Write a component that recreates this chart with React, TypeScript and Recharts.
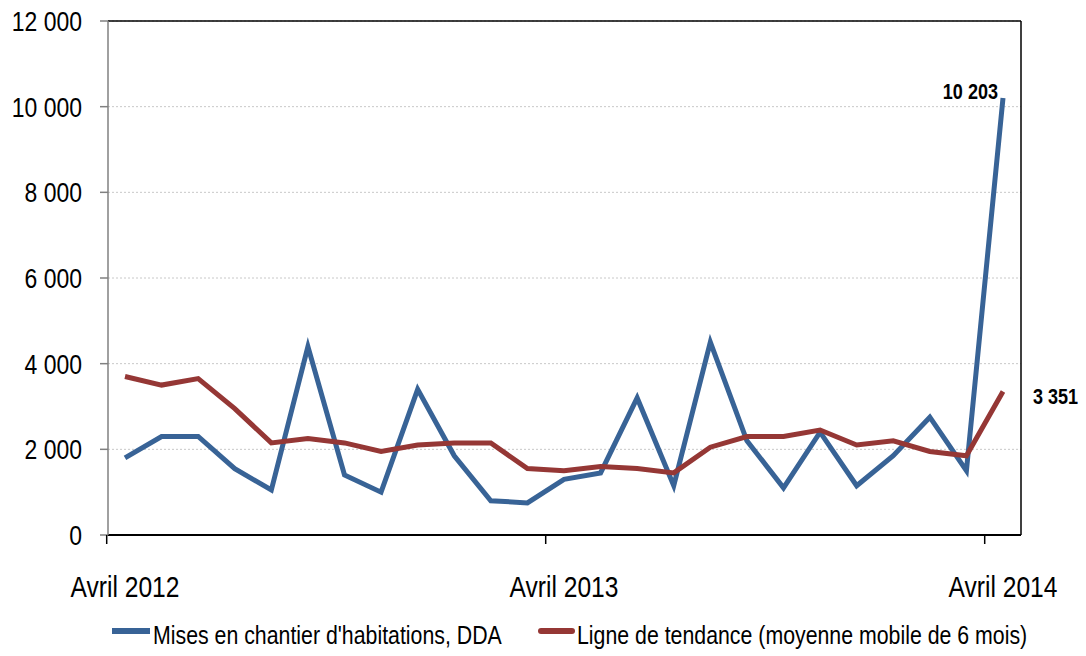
import {
  LineChart,
  Line,
  XAxis,
  YAxis,
  CartesianGrid,
  Legend,
  LabelList,
} from "recharts";

const MONTHS = [
  "Avril 2012", "Mai 2012", "Juin 2012", "Juillet 2012", "Août 2012", "Septembre 2012",
  "Octobre 2012", "Novembre 2012", "Décembre 2012", "Janvier 2013", "Février 2013", "Mars 2013",
  "Avril 2013", "Mai 2013", "Juin 2013", "Juillet 2013", "Août 2013", "Septembre 2013",
  "Octobre 2013", "Novembre 2013", "Décembre 2013", "Janvier 2014", "Février 2014", "Mars 2014",
  "Avril 2014",
];

const STARTS = [
  1800, 2300, 2300, 1550, 1050, 4400, 1400, 1000, 3400, 1850, 800, 750,
  1300, 1450, 3200, 1150, 4500, 2200, 1100, 2400, 1150, 1850, 2750, 1500,
  10203,
];

const TREND = [
  3700, 3500, 3650, 2950, 2150, 2250, 2150, 1950, 2100, 2150, 2150, 1550,
  1500, 1600, 1550, 1450, 2050, 2300, 2300, 2450, 2100, 2200, 1950, 1850,
  3351,
];

const Y_TICKS = [0, 2000, 4000, 6000, 8000, 10000, 12000];

const SERIES_NAMES = [
  "Mises en chantier d'habitations, DDA",
  "Ligne de tendance (moyenne mobile de 6 mois)",
];

const BLUE = "#386396";
const RED = "#953735";
// no Arial Narrow here: squeeze Liberation Sans horizontally instead
const FONT = "'Liberation Sans', Arial, sans-serif";
const SQUEEZE = 0.82;

const data = MONTHS.map((m, i) => ({ month: m, starts: STARTS[i], trend: TREND[i] }));

const fmt = (v: number) => String(v).replace(/\B(?=(\d{3})+(?!\d))/g, " ");

// plot spans 108..1021, points inset by half a month
const HALF_STEP = 18.3;

function Narrow({ x, y, anchor = "start", size, bold, children }: any) {
  return (
    <text
      transform={`translate(${x},${y}) scale(${SQUEEZE},1)`}
      textAnchor={anchor}
      fontFamily={FONT}
      fontSize={size}
      fontWeight={bold ? "bold" : "normal"}
      fill="#000"
    >
      {children}
    </text>
  );
}

function MonthTick({ x, y, payload }: any) {
  return (
    <g>
      <line x1={x - HALF_STEP} x2={x - HALF_STEP} y1={y} y2={y + 9} stroke="#000" strokeWidth={1.5} />
      <Narrow x={x} y={y + 62} anchor="middle" size={30}>
        {payload.value}
      </Narrow>
    </g>
  );
}

function ValueTick({ x, y, payload }: any) {
  return (
    <Narrow x={x} y={y + 10} anchor="end" size={28}>
      {fmt(payload.value)}
    </Narrow>
  );
}

const lastLabel = (dx: number, dy: number, anchor: "start" | "end") => (props: any) => {
  const { x, y, value, index } = props;
  if (index !== MONTHS.length - 1) return null;
  return (
    <Narrow x={x + dx} y={y + dy} anchor={anchor} size={22} bold>
      {fmt(value)}
    </Narrow>
  );
};

function LegendBox() {
  return (
    <svg width={1086} height={40}>
      <rect x={112} y={16} width={38} height={6} fill={BLUE} />
      <Narrow x={153} y={32} size={26}>{SERIES_NAMES[0]}</Narrow>
      <line x1={541} x2={572} y1={19} y2={19} stroke={RED} strokeWidth={6} strokeLinecap="round" />
      <Narrow x={577} y={32} size={26}>{SERIES_NAMES[1]}</Narrow>
    </svg>
  );
}

export default function App() {
  return (
    <div style={{ position: "absolute", left: 0, top: 0, width: 1086, height: 656, background: "#fff" }}>
      <LineChart width={1086} height={656} data={data} margin={{ top: 20, right: 64, bottom: 61, left: 0 }}>
        <CartesianGrid vertical={false} stroke="#c8c8c8" strokeDasharray="2 2" />
        <XAxis
          dataKey="month"
          interval={11}
          padding={{ left: 17, right: 18 }}
          height={60}
          tickSize={0}
          tickMargin={0}
          tickLine={false}
          axisLine={{ stroke: "#000", strokeWidth: 2 }}
          tick={<MonthTick />}
        />
        <XAxis
          xAxisId="top"
          orientation="top"
          dataKey="month"
          height={1}
          tick={false}
          tickLine={false}
          axisLine={{ stroke: "#000", strokeWidth: 1.5 }}
        />
        <YAxis
          domain={[0, 12000]}
          ticks={Y_TICKS}
          width={108}
          tickSize={8}
          tickMargin={18}
          tick={<ValueTick />}
          tickLine={{ stroke: "#808080", strokeWidth: 1.5 }}
          axisLine={{ stroke: "#808080", strokeWidth: 1.5 }}
        />
        <YAxis
          yAxisId="right"
          orientation="right"
          width={1}
          tick={false}
          tickLine={false}
          axisLine={{ stroke: "#000", strokeWidth: 1.5 }}
        />
        <Legend
          verticalAlign="middle"
          align="center"
          layout="horizontal"
          wrapperStyle={{ top: 612, left: 0, width: 1086, height: 40 }}
          content={() => <LegendBox />}
        />
        <Line
          type="linear"
          dataKey="starts"
          stroke={BLUE}
          strokeWidth={5}
          dot={false}
          isAnimationActive={false}
          name={SERIES_NAMES[0]}
        >
          <LabelList dataKey="starts" content={lastLabel(-5, 1, "end")} />
        </Line>
        <Line
          type="linear"
          dataKey="trend"
          stroke={RED}
          strokeWidth={5}
          dot={false}
          isAnimationActive={false}
          name={SERIES_NAMES[1]}
        >
          <LabelList dataKey="trend" content={lastLabel(30, 13, "start")} />
        </Line>
      </LineChart>
    </div>
  );
}
